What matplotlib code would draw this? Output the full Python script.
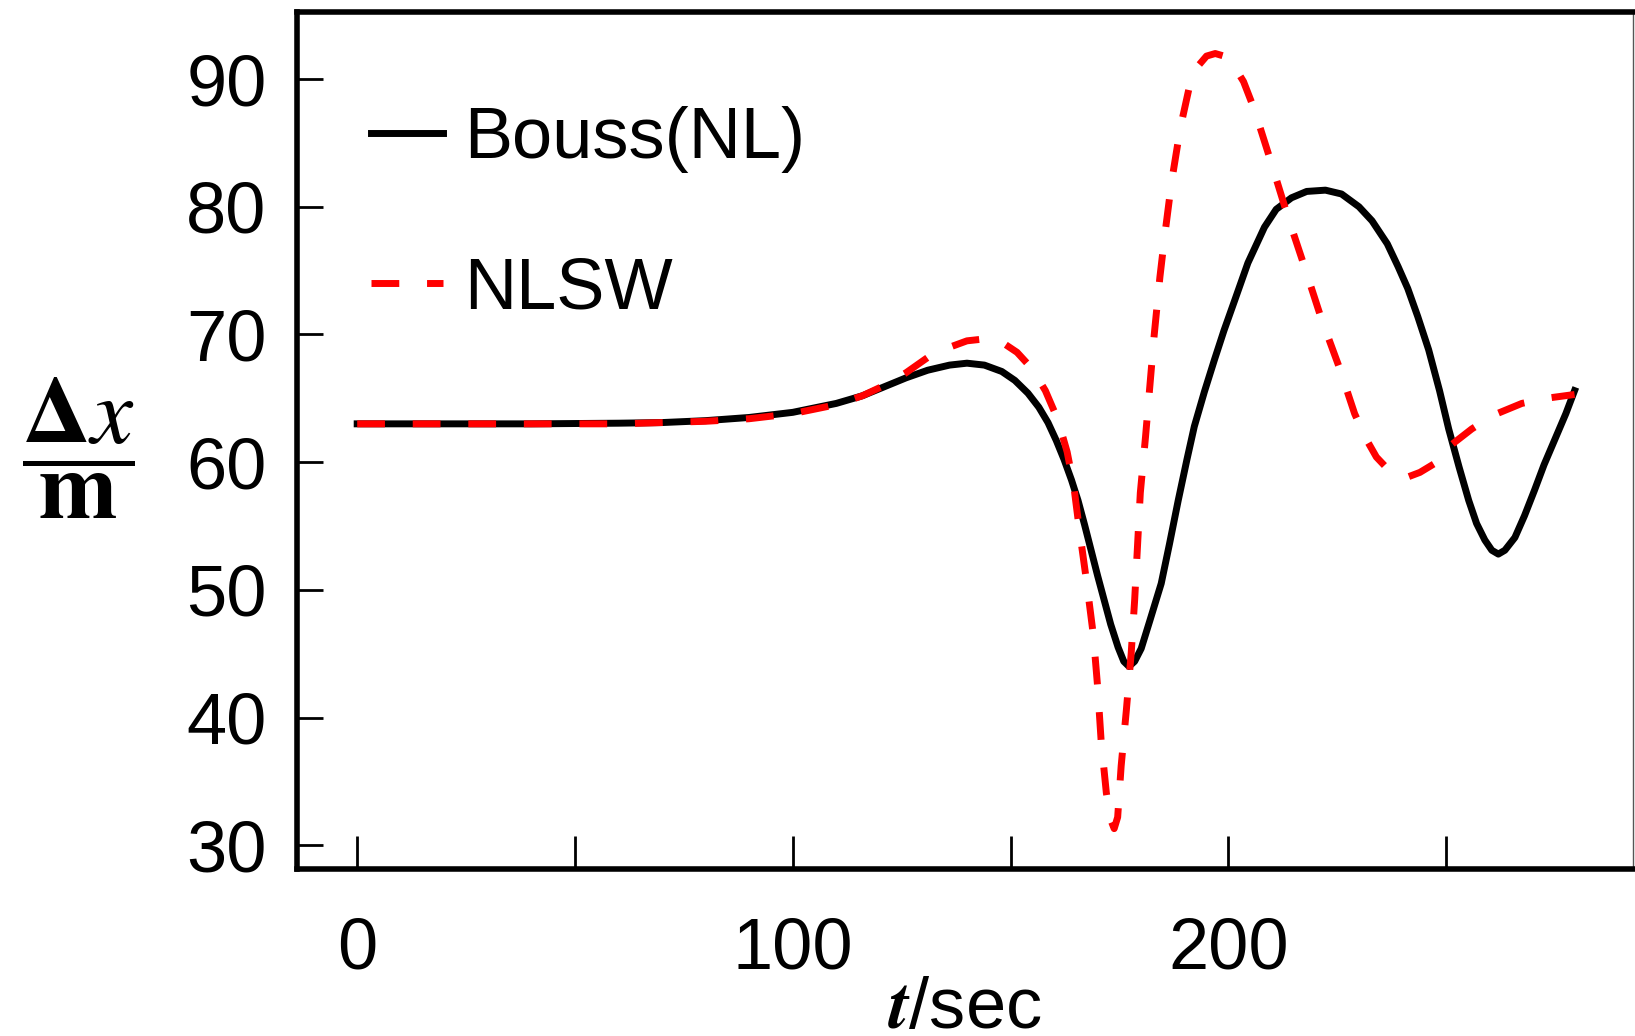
import matplotlib
matplotlib.use("Agg")
import matplotlib.pyplot as plt

# Bouss(NL) run
t_bouss = [0, 20, 40, 60, 70, 80, 90, 100, 110, 116, 121, 126, 131, 136, 140,
           144, 148, 151, 154, 156.5, 158.6, 160.5, 162.3, 164, 165.5, 167,
           168.5, 170, 171.5, 173, 174.7, 176, 177.2, 178.5, 180, 182, 184.6,
           186.5, 188.5, 190.5, 192.2, 194.5, 196.8, 199, 201.5, 204.5, 208.3,
           211, 214.5, 218, 222.3, 226, 230, 233, 236.5, 239, 241.2, 243.5,
           246, 248.5, 250.6, 253, 255.2, 257, 258.9, 260.5, 262, 263.5, 265.8,
           268, 270.3, 272.5, 275, 277.5, 279.5]
dx_bouss = [63.0, 63.0, 63.0, 63.05, 63.1, 63.25, 63.5, 63.9, 64.6, 65.2, 65.9,
            66.6, 67.2, 67.6, 67.75, 67.6, 67.1, 66.4, 65.4, 64.3, 63.1, 61.7,
            60.2, 58.6, 57.0, 55.1, 53.1, 51.1, 49.2, 47.3, 45.5, 44.4, 44.0,
            44.4, 45.4, 47.6, 50.5, 53.6, 57.0, 60.2, 62.8, 65.5, 68.0, 70.3,
            72.7, 75.6, 78.4, 79.8, 80.7, 81.2, 81.3, 81.0, 80.0, 78.9, 77.1,
            75.3, 73.6, 71.4, 68.8, 65.6, 62.6, 59.6, 57.0, 55.2, 53.9, 53.1,
            52.8, 53.1, 54.1, 55.8, 57.8, 59.8, 61.8, 63.8, 65.6]

# NLSW run
t_nlsw = [0, 20, 40, 60, 70, 80, 90, 100, 110, 116, 121, 126, 131, 136, 140,
          144, 148, 151.5, 155, 158, 160.9, 163, 164.5, 165.7, 167.4, 169, 170,
          170.8, 172, 173, 173.8, 174.6, 175.4, 176.6, 177.7, 178.5, 179.8, 181,
          182, 183, 184.3, 185.5, 187, 189, 191, 193, 195, 197, 199, 201, 203.5,
          206, 209.9, 213.7, 217.5, 221.4, 225.5, 229, 231.5, 234, 236.5, 239,
          241.3, 244, 247.4, 251, 255.9, 261, 267.4, 273, 279.5]
dx_nlsw = [63.0, 63.0, 63.0, 63.0, 63.1, 63.2, 63.4, 63.8, 64.5, 65.2, 66.0,
           67.0, 68.2, 69.0, 69.5, 69.65, 69.4, 68.6, 67.3, 65.6, 63.3, 60.8,
           58.2, 55.0, 50.8, 46.5, 42.4, 38.2, 34.1, 32.0, 31.3, 32.2, 36.2,
           40.6, 45.0, 49.2, 57.6, 62.0, 66.0, 70.0, 74.5, 78.0, 82.0, 86.2,
           89.3, 91.0, 91.8, 92.0, 91.8, 91.2, 89.8, 87.6, 83.4, 79.2, 75.3,
           71.2, 67.4, 63.8, 61.9, 60.4, 59.5, 59.0, 58.85, 59.2, 59.9, 61.3,
           62.6, 63.7, 64.6, 65.0, 65.3]

x_major = [0, 100, 200]
x_minor = [50, 150, 250]
y_ticks = [30, 40, 50, 60, 70, 80, 90]

plt.rcParams['font.family'] = ['Liberation Sans', 'DejaVu Sans']
plt.rcParams['mathtext.fontset'] = 'cm'

fig = plt.figure(figsize=(16.35, 10.36), dpi=100)
ax = fig.add_axes([0.1817, 0.1612, 0.8173, 0.8272])

ax.plot(t_bouss, dx_bouss, color='black', lw=5, label='Bouss(NL)')
ax.plot(t_nlsw, dx_nlsw, color='red', lw=5, ls=(0, (4, 4)), label='NLSW')

ax.set_xlim(-13.8, 293)
ax.set_ylim(28.14, 95.25)

ax.set_xticks(x_major)
ax.set_xticks(x_minor, minor=True)
ax.set_yticks(y_ticks)
ax.tick_params(axis='x', which='both', direction='in', length=24, width=2,
               pad=34, labelsize=52)
ax.tick_params(axis='y', direction='in', length=19, width=2, pad=22,
               labelsize=52)

for s in ['left', 'bottom', 'top']:
    ax.spines[s].set_linewidth(4)
ax.spines['right'].set_linewidth(1)
ax.spines['right'].set_color('#555555')

ax.set_xlabel(r'$\mathbfit{t}$/sec', fontsize=52, va='top')
ax.xaxis.set_label_coords(0.5, -0.125)
ax.set_ylabel(r'$\dfrac{\mathbf{\Delta}\mathit{x}}{\mathbf{m}}$', fontsize=68,
              rotation=0, ha='center', va='center', math_fontfamily='stix')
ax.yaxis.set_label_coords(-0.164, 0.491)

ax.legend(loc='upper left', bbox_to_anchor=(0.055, 0.89), frameon=False,
          fontsize=52, handlelength=1.0, handletextpad=0.3, labelspacing=1.15,
          borderpad=0, borderaxespad=0)

fig.savefig('out.png', dpi=100)
